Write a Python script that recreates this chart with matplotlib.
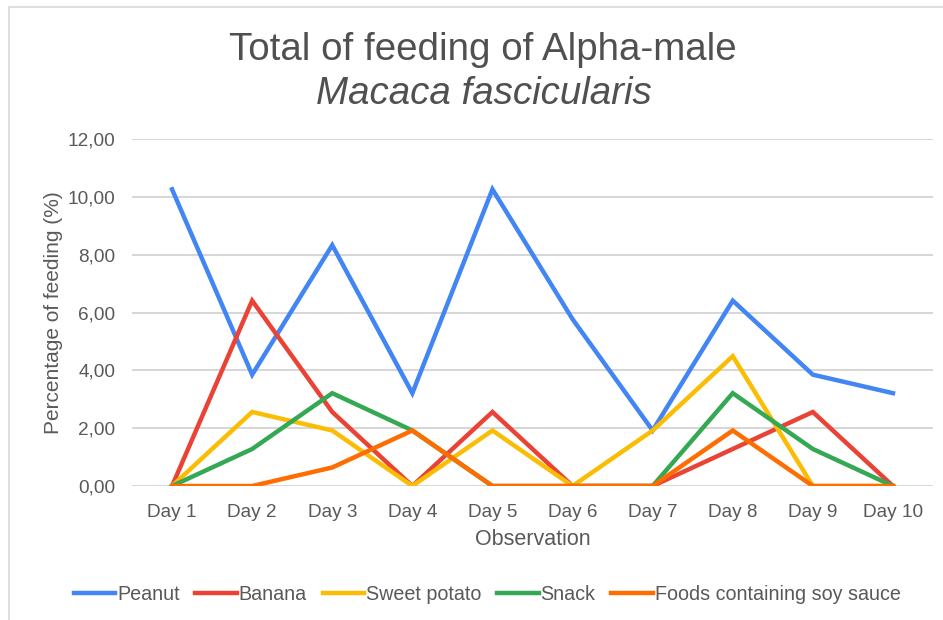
import numpy as np
import matplotlib.pyplot as plt
from matplotlib.patches import Rectangle
from matplotlib.ticker import FuncFormatter

days = ["Day 1", "Day 2", "Day 3", "Day 4", "Day 5",
        "Day 6", "Day 7", "Day 8", "Day 9", "Day 10"]

peanut = [10.26, 3.85, 8.33, 3.21, 10.26, 5.77, 1.92, 6.41, 3.85, 3.21]
banana = [0, 6.41, 2.56, 0, 2.56, 0, 0, 1.28, 2.56, 0]
sweet_potato = [0, 2.56, 1.92, 0, 1.92, 0, 1.92, 4.49, 0, 0]
snack = [0, 1.28, 3.21, 1.92, 0, 0, 0, 3.21, 1.28, 0]
soy_sauce = [0, 0, 0.64, 1.92, 0, 0, 0, 1.92, 0, 0]

series = [
    ("Peanut", peanut, "#4285F4"),
    ("Banana", banana, "#EA4335"),
    ("Sweet potato", sweet_potato, "#FBBC04"),
    ("Snack", snack, "#34A853"),
    ("Foods containing soy sauce", soy_sauce, "#FF6D01"),
]

plt.rcParams['font.family'] = ['Liberation Sans', 'DejaVu Sans']
txt = "#595959"

fig = plt.figure(figsize=(9.43, 6.2), dpi=100)
ax = fig.add_axes([132/943, 1-486/620, (933-132)/943, (486-139)/620])

x = np.arange(len(days))
for name, vals, col in series:
    ax.plot(x, vals, color=col, lw=3.2, label=name, solid_joinstyle='miter')

ax.set_xlim(-0.5, len(days)-0.5)
ax.set_ylim(0, 12)
ax.set_yticks(np.arange(0, 13, 2))
ax.yaxis.set_major_formatter(FuncFormatter(lambda v, p: f"{v:.2f}".replace(".", ",")))
ax.set_xticks(x)
ax.set_xticklabels(days)
ax.grid(axis='y', color="#d0d0d0", lw=1.2)
ax.set_axisbelow(True)
for s in ax.spines.values():
    s.set_visible(False)
ax.tick_params(length=0, labelsize=13.7, colors=txt)
ax.tick_params(axis='x', pad=13)
ax.tick_params(axis='y', pad=12)

ax.set_xlabel("Observation", fontsize=15.5, color=txt, labelpad=6)
ax.set_ylabel("Percentage of feeding (%)", fontsize=15, color=txt, labelpad=3)

fig.text(483/943, 1-50/620, "Total of feeding of Alpha-male", fontsize=27.7,
         color="#505050", ha='center', va='center')
fig.text(484/943, 1-94/620, "Macaca fascicularis", fontsize=27.7, style='italic',
         color="#505050", ha='center', va='center')

fig.legend(loc='center', bbox_to_anchor=(487/943, 1-594/620), ncol=5, frameon=False,
           fontsize=14.2, handlelength=2.1, handletextpad=0.1, columnspacing=0.8,
           labelcolor=txt)

fig.patches.append(Rectangle((9/943, -0.1), 1.2, 1-7/620+0.1, transform=fig.transFigure,
                             fill=False, edgecolor="#d9d9d9", lw=1.2))

fig.savefig("out.png", dpi=100)
